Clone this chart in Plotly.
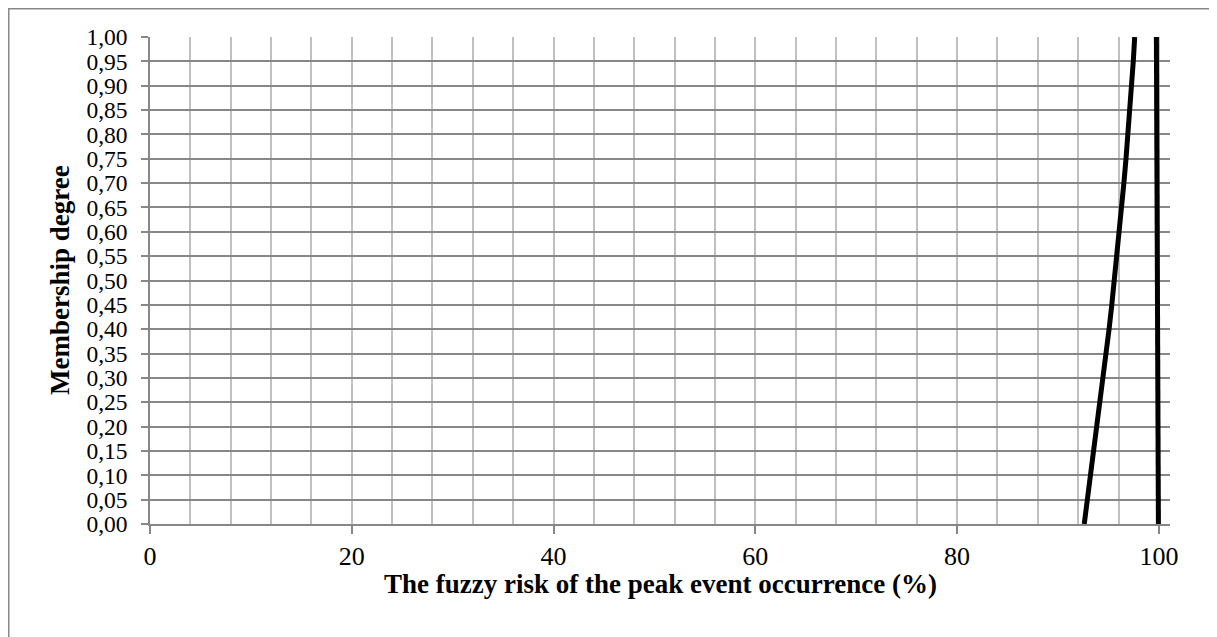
import plotly.graph_objects as go

# Membership degree levels
mu_left = [0.00, 0.05, 0.10, 0.15, 0.20, 0.25, 0.30, 0.35, 0.40, 0.45, 0.50,
           0.55, 0.60, 0.65, 0.70, 0.75, 0.80, 0.85, 0.90, 0.95, 1.00]
# Left branch of the fuzzy risk (%)
risk_left = [92.60, 92.92, 93.24, 93.56, 93.88, 94.19, 94.49, 94.78, 95.06, 95.33, 95.59,
             95.84, 96.08, 96.31, 96.53, 96.74, 96.94, 97.13, 97.30, 97.46, 97.60]
# Right branch of the fuzzy risk (%)
mu_right = [0.00, 0.25, 0.50, 0.75, 1.00]
risk_right = [99.95, 99.91, 99.87, 99.82, 99.75]

x_ticks = [0, 20, 40, 60, 80, 100]

# page is offset by the default 8px body margin
OFF = 8
W, H = 1217 - OFF, 637 - OFF
L, R, T, B = 150 - OFF, 1170 - OFF, 37 - OFF, 524 - OFF
pw, ph = R - L, B - T

def px_x(px):
    return (px - OFF - L) / pw

def px_y(py):
    return (B - (py - OFF)) / ph

font_family = "Liberation Serif, Times New Roman, serif"
grid_dark = "#878787"
grid_light = "#c0c0c0"

fig = go.Figure()
fig.add_trace(go.Scatter(x=risk_left, y=mu_left, mode="lines",
                         line=dict(color="black", width=5), showlegend=False))
fig.add_trace(go.Scatter(x=risk_right, y=mu_right, mode="lines",
                         line=dict(color="black", width=5), showlegend=False))

fig.update_layout(
    width=W, height=H,
    margin=dict(l=L, r=W - R, t=T, b=H - B),
    paper_bgcolor="white", plot_bgcolor="white",
    separators=",.",
    font=dict(family=font_family, size=26, color="black"),
    showlegend=False,
    xaxis=dict(
        range=[0, 101.1], tickvals=x_ticks, ticktext=[str(v) for v in x_ticks],
        showgrid=True, gridcolor=grid_light, gridwidth=1.5,
        minor=dict(dtick=4, tick0=0, showgrid=True, gridcolor=grid_light, gridwidth=1.5),
        ticks="outside", ticklen=8, tickcolor=grid_dark, tickwidth=1.5,
        showline=True, linecolor=grid_dark, linewidth=1.5,
        zeroline=False, tickfont=dict(size=26), fixedrange=True,
    ),
    yaxis=dict(
        range=[0, 1], dtick=0.05, tick0=0, tickformat=".2f",
        showgrid=True, gridcolor=grid_dark, gridwidth=1.5,
        ticks="outside", ticklen=7, tickcolor=grid_dark, tickwidth=1.5,
        showline=True, linecolor=grid_dark, linewidth=1.5,
        zeroline=False, tickfont=dict(size=23.5), ticklabelstandoff=9,
        fixedrange=True,
    ),
    shapes=[dict(type="rect", xref="paper", yref="paper",
                 x0=px_x(8.75), x1=px_x(1300),
                 y0=px_y(720), y1=px_y(8.75),
                 line=dict(color=grid_dark, width=1.5), fillcolor="rgba(0,0,0,0)",
                 layer="below")],
    annotations=[
        dict(text="<b>The fuzzy risk of the peak event occurrence (%)</b>",
             xref="paper", yref="paper", x=px_x(660), y=px_y(584),
             xanchor="center", yanchor="middle", showarrow=False,
             font=dict(family=font_family, size=27, color="black")),
        dict(text="<b>Membership degree</b>", textangle=-90,
             xref="paper", yref="paper", x=px_x(60), y=px_y(280),
             xanchor="center", yanchor="middle", showarrow=False,
             font=dict(family=font_family, size=27, color="black")),
    ],
)

fig.write_html("out.html")
